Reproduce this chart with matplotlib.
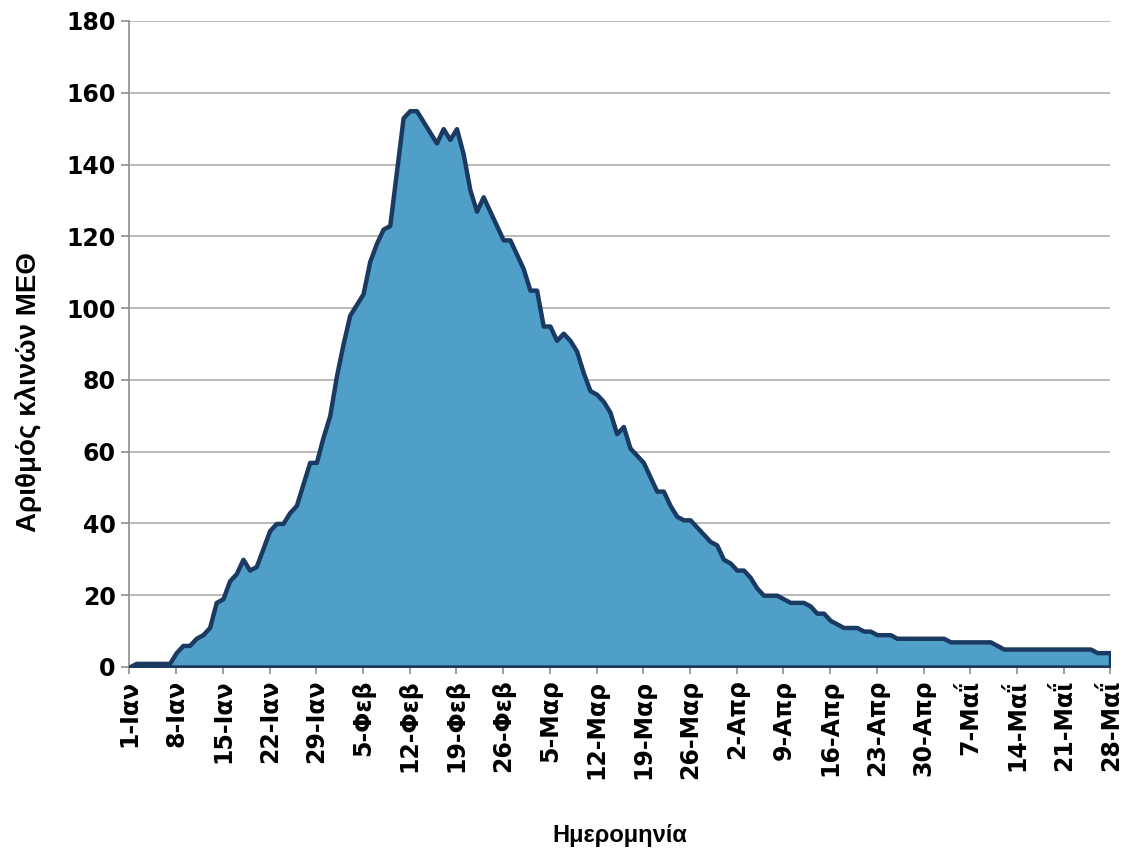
import matplotlib
matplotlib.use("Agg")
import matplotlib.pyplot as plt
import numpy as np
import pandas as pd

# Daily dates 1 Jan - 28 May
dates = pd.date_range("2011-01-01", "2011-05-28", freq="D")

# Number of ICU beds (daily)
icu_beds = [
    0, 1, 1, 1, 1, 1, 1, 4, 6, 6,
    8, 9, 11, 18, 19, 24, 26, 30, 27, 28,
    33, 38, 40, 40, 43, 45, 51, 57, 57, 64,
    70, 81, 90, 98, 101, 104, 113, 118, 122, 123,
    138, 153, 155, 155, 152, 149, 146, 150, 147, 150,
    143, 133, 127, 131, 127, 123, 119, 119, 115, 111,
    105, 105, 95, 95, 91, 93, 91, 88, 82, 77,
    76, 74, 71, 65, 67, 61, 59, 57, 53, 49,
    49, 45, 42, 41, 41, 39, 37, 35, 34, 30,
    29, 27, 27, 25, 22, 20, 20, 20, 19, 18,
    18, 18, 17, 15, 15, 13, 12, 11, 11, 11,
    10, 10, 9, 9, 9, 8, 8, 8, 8, 8,
    8, 8, 8, 7, 7, 7, 7, 7, 7, 7,
    6, 5, 5, 5, 5, 5, 5, 5, 5, 5,
    5, 5, 5, 5, 5, 4, 4, 4,
]

greek_months = {1: "Ιαν", 2: "Φεβ", 3: "Μαρ", 4: "Απρ", 5: "Μαΐ"}
tick_dates = dates[::7]
tick_labels = [f"{d.day}-{greek_months[d.month]}" for d in tick_dates]

y_ticks = [0, 20, 40, 60, 80, 100, 120, 140, 160, 180]

plt.rcParams["font.family"] = ["Liberation Sans", "DejaVu Sans"]
tick_font = ["DejaVu Sans"]
title_font = ["Liberation Sans", "DejaVu Sans"]

W, H = 1129, 849
fig = plt.figure(figsize=(W / 100, H / 100), dpi=100)
ax = fig.add_axes([0.1147, 0.2144, 0.8689, 0.7609])

x = np.arange(len(dates))
y = np.array(icu_beds)

ax.fill_between(x, y, 0, facecolor="#4F9FC8", edgecolor="#1B3A62",
                linewidth=3.2, zorder=3, joinstyle="round")

ax.set_xlim(0, len(dates) - 1)
ax.set_ylim(0, 180)

tick_pos = [dates.get_loc(d) for d in tick_dates]
ax.set_xticks(tick_pos)
ax.set_xticklabels(tick_labels, rotation=90, fontsize=17, fontweight="bold",
                   family=tick_font)
ax.set_yticks(y_ticks)
ax.set_yticklabels([str(v) for v in y_ticks], fontsize=17, fontweight="bold",
                   family=tick_font)

ax.yaxis.grid(True, color="#A6A6A6", linewidth=1.1, zorder=0)
ax.set_axisbelow(True)

for s in ["top", "right"]:
    ax.spines[s].set_visible(False)
for s in ["left", "bottom"]:
    ax.spines[s].set_color("#8C8C8C")
    ax.spines[s].set_linewidth(1.2)

ax.tick_params(axis="y", direction="out", color="#8C8C8C", width=1.2,
               length=6, pad=4, labelcolor="black")
ax.tick_params(axis="x", direction="out", color="#8C8C8C", width=1.2,
               length=5, pad=4, labelcolor="black")

fig.text(620 / W, 1 - 842 / H, "Ημερομηνία", fontsize=17, fontweight="bold",
         ha="center", va="baseline", family=title_font)
fig.text(29 / W, 1 - 392 / H, "Αριθμός κλινών ΜΕΘ", fontsize=20,
         fontweight="bold", rotation=90, ha="center", va="center",
         family=title_font)

fig.savefig("out.png", dpi=100)
